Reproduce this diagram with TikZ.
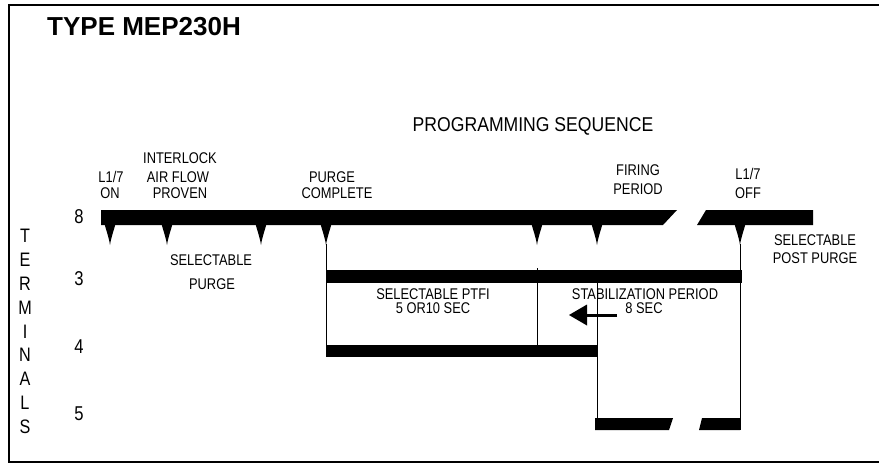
\documentclass[tikz,border=0pt]{standalone}
\usepackage{fontspec}
\setmainfont{Liberation Sans}
\newfontfamily\lblfont[FakeStretch=0.83]{Liberation Sans}
\newfontfamily\bigfont[FakeStretch=0.88]{Liberation Sans}
\begin{document}
\begin{tikzpicture}[x=1pt,y=-1pt,
  lbl/.style={font=\lblfont\fontsize{15.5}{18}\selectfont, inner sep=0pt, anchor=base},
  termnum/.style={font=\lblfont\fontsize{20}{22}\selectfont, inner sep=0pt, anchor=base},
  termlet/.style={font=\lblfont\fontsize{19.5}{22}\selectfont, inner sep=0pt, anchor=base},
  heading/.style={font=\bigfont\fontsize{20}{22}\selectfont, inner sep=0pt, anchor=base},
  titlestyle/.style={font=\bfseries\fontsize{26}{28}\selectfont, inner sep=0pt, anchor=base west},
  frameline/.style={line width=2pt},
  bar/.style={fill=black},
  thin/.style={line width=1pt},
  spike/.pic={\fill (-5.5,-1) .. controls (-3.6,6) and (-1.2,12) .. (0,20) .. controls (1.2,12) and (3.6,6) .. (5.5,-1) -- cycle;}
]
\useasboundingbox (0,0) rectangle (879,464);
\fill[white] (0,0) rectangle (879,464);
% frame
\draw[frameline] (879,5) -- (9,5) -- (9,462) -- (879,462);

% title and heading
\node[titlestyle] (title) at (47,35) {TYPE MEP230H};
\node[heading] (prog) at (533,131) {PROGRAMMING SEQUENCE};

% terminal 8 bar
\fill[bar] (101,210) -- (677,210) -- (663,225) -- (101,225) -- cycle;
\fill[bar] (706,210) -- (813,210) -- (813,225) -- (697,225) -- cycle;
\foreach \xx in {110,167,261,326,537,597,740} {\pic at (\xx,225) {spike};}

% terminal 3 bar
\fill[bar] (326,270) rectangle (742,283);
% terminal 4 bar
\fill[bar] (326,345) rectangle (598,357);
% terminal 5 bar
\fill[bar] (595,418) -- (673,418) -- (669,430) -- (595,430) -- cycle;
\fill[bar] (702,418) -- (740,418) -- (740,430) -- (699,430) -- cycle;

% vertical connectors
\coordinate (pc) at (326,244);
\coordinate (pcb) at (326,357);
\coordinate (ptfi) at (537,268);
\coordinate (ptfib) at (537,345);
\coordinate (fp) at (597,283);
\coordinate (fpb) at (597,430);
\coordinate (off) at (740,244);
\coordinate (offb) at (740,430);
\draw[thin] (pc) -- (pcb);
\draw[thin] (ptfi) -- (ptfib);
\draw[thin] (fp) -- (fpb);
\draw[thin] (off) -- (offb);

% arrow
\coordinate (arrs) at (617,315);
\coordinate (arrb) at (586,315);
\coordinate (arrt) at (569,315);
\draw[line width=3pt] (arrs) -- (arrb);
\fill (arrt) -- (587,304.5) -- (587,325.5) -- cycle;

% top labels
\node[lbl] (l17a) at (111,182) {L1/7};
\node[lbl] (on) at (110,198) {ON};
\node[lbl] (il1) at (180,163) {INTERLOCK};
\node[lbl] (il2) at (178,182) {AIR FLOW};
\node[lbl] (il3) at (180,198) {PROVEN};
\node[lbl] (pc1) at (332,182) {PURGE};
\node[lbl] (pc2) at (337,198) {COMPLETE};
\node[lbl] (fr1) at (638,175) {FIRING};
\node[lbl] (fr2) at (638,194) {PERIOD};
\node[lbl] (l17b) at (748,179) {L1/7};
\node[lbl] (offl) at (748,198) {OFF};
\node[lbl] (sp1) at (211,265) {SELECTABLE};
\node[lbl] (sp2) at (212,289) {PURGE};
\node[lbl] (pp1) at (815,245) {SELECTABLE};
\node[lbl] (pp2) at (815,263) {POST PURGE};
\node[lbl] (pt1) at (433,299) {SELECTABLE PTFI};
\node[lbl] (pt2) at (433,313) {5 OR10 SEC};
\node[lbl] (st1) at (645,299) {STABILIZATION PERIOD};
\node[lbl] (st2) at (644,313) {8 SEC};

% terminal numbers
\node[termnum] (t8) at (79,223) {8};
\node[termnum] (t3) at (79,285) {3};
\node[termnum] (t4) at (79,353) {4};
\node[termnum] (t5) at (79,420) {5};

% TERMINALS
\node[termlet] (lT) at (25,242) {T};
\node[termlet] (lE) at (25,266) {E};
\node[termlet] (lR) at (25,290) {R};
\node[termlet] (lM) at (25,314) {M};
\node[termlet] (lI) at (25,338) {I};
\node[termlet] (lN) at (25,361) {N};
\node[termlet] (lA) at (25,385) {A};
\node[termlet] (lL) at (25,409) {L};
\node[termlet] (lS) at (25,433) {S};
\end{tikzpicture}
\end{document}
